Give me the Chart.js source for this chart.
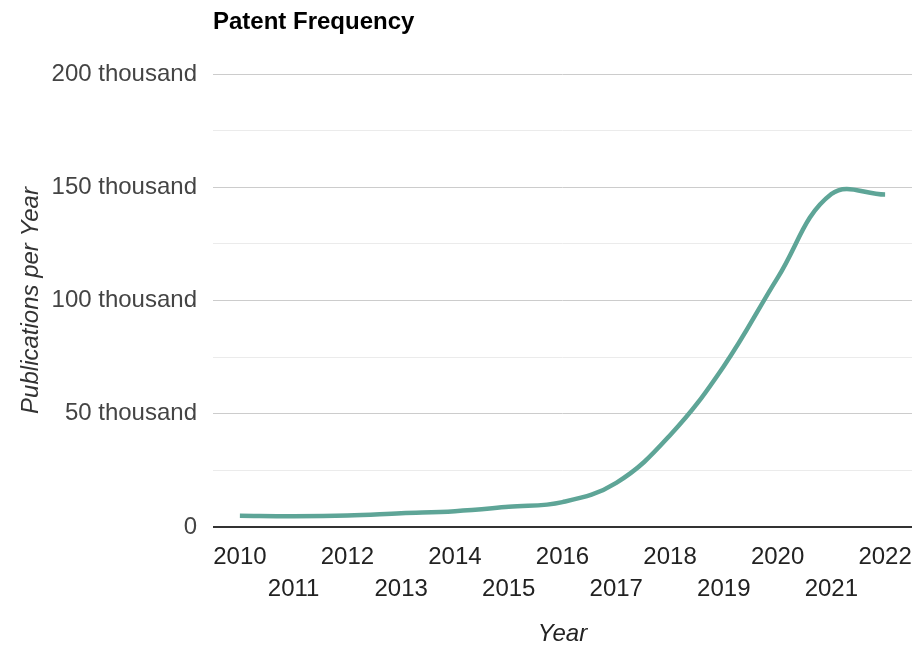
<!DOCTYPE html>
<html>
<head>
<meta charset="utf-8">
<title>Patent Frequency</title>
<script src="https://cdn.jsdelivr.net/npm/chart.js@4/dist/chart.umd.min.js"></script>
<style>
  html, body { margin: 0; padding: 0; background: #fff; }
  #wrap { width: 915px; height: 646px; }
</style>
</head>
<body>
<div id="wrap"><canvas id="patentChart" width="915" height="646"></canvas></div>
<script>
const years = ["2010", "2011", "2012", "2013", "2014", "2015", "2016",
  "2017", "2018", "2019", "2020", "2021", "2022"];
const publications = [5000, 4800, 5100, 6100, 7000, 8900, 11000,
  19500, 40500, 71000, 110000, 147000, 146800];
const yMajorStep = 50000;

const FONT = "'Liberation Sans', Arial, sans-serif";

// chart heading, left-aligned with the plot area
const headingPlugin = {
  id: "heading",
  afterDraw(chart) {
    const { ctx, chartArea } = chart;
    ctx.save();
    ctx.font = "bold 24px " + FONT;
    ctx.fillStyle = "#000";
    ctx.textAlign = "left";
    ctx.textBaseline = "middle";
    ctx.fillText("Patent Frequency", chartArea.left, 22);
    ctx.restore();
  },
};

const ctx = document.getElementById("patentChart").getContext("2d");
new Chart(ctx, {
  type: "line",
  data: {
    labels: years,
    datasets: [
      {
        label: "Publications",
        data: publications,
        borderColor: "#5ea597",
        borderWidth: 4.5,
        pointRadius: 0,
        tension: 0.4,
        fill: false,
      },
    ],
  },
  options: {
    responsive: false,
    animation: false,
    layout: { padding: { top: 74, right: 3, bottom: 0, left: 0 } },
    plugins: {
      legend: { display: false },
      tooltip: { enabled: false },
    },
    scales: {
      x: {
        offset: true,
        grid: { display: false, drawTicks: false },
        border: { display: false },
        ticks: {
          autoSkip: false,
          maxRotation: 0,
          padding: 14,
          color: "#222",
          font: { family: FONT, size: 24, lineHeight: 1.333 },
          // even years on the first row, odd years on the second
          callback: (v, i) => (i % 2 === 0 ? [years[i], ""] : ["", years[i]]),
        },
        title: {
          display: true,
          text: "Year",
          color: "#222",
          font: { family: FONT, size: 24, style: "italic", lineHeight: 1.0 },
          padding: { top: 0, bottom: 0 },
        },
        afterFit: (scale) => {
          scale.height = 119;
          // year labels may overhang the plot edges
          scale.paddingLeft = 0;
          scale.paddingRight = 0;
        },
      },
      y: {
        min: 0,
        max: 200000,
        border: { display: false },
        grid: {
          drawTicks: false,
          color: (c) => {
            const v = c.tick.value;
            if (v === 0) return "#333";
            return v % yMajorStep === 0 ? "#cccccc" : "#ebebeb";
          },
          lineWidth: (c) => (c.tick.value === 0 ? 2 : 1),
        },
        ticks: {
          stepSize: 25000,
          padding: 16,
          color: "#444",
          font: { family: FONT, size: 24 },
          callback: (v) => {
            if (v === 0) return "0";
            return v % yMajorStep === 0 ? v / 1000 + " thousand" : "";
          },
        },
        title: {
          display: true,
          text: "Publications per Year",
          color: "#333",
          font: { family: FONT, size: 24, style: "italic", lineHeight: 1.2 },
          padding: { top: 17, bottom: 0 },
        },
        afterFit: (scale) => { scale.width = 213; },
      },
    },
  },
  plugins: [headingPlugin],
});
</script>
</body>
</html>
